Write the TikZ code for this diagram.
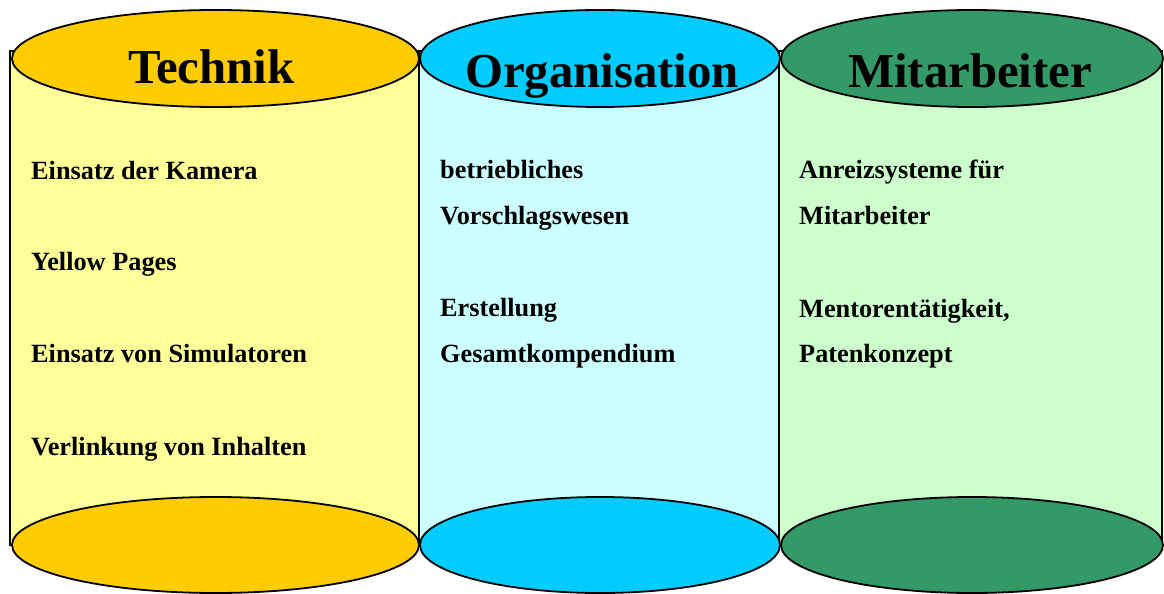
\documentclass[tikz,border=0pt]{standalone}
\usepackage{fontspec}
\setmainfont{Liberation Serif}
\usetikzlibrary{shapes.geometric}

\definecolor{goldcap}{HTML}{FFCC00}
\definecolor{goldbody}{HTML}{FFFF99}
\definecolor{cyancap}{HTML}{00CCFF}
\definecolor{cyanbody}{HTML}{CCFFFF}
\definecolor{greencap}{HTML}{339966}
\definecolor{greenbody}{HTML}{CCFFCC}

\tikzset{
  cylbody/.style={draw=black, line width=1.8pt},
  cyllid/.style={ellipse, draw=black, line width=1.8pt, inner sep=0pt},
  coltitle/.style={anchor=base west, inner sep=0pt, font=\fontsize{48.8}{48.8}\selectfont\bfseries},
  colitem/.style={anchor=base west, inner sep=0pt, font=\fontsize{26.3}{26.3}\selectfont\bfseries},
}

\begin{document}
\begin{tikzpicture}[x=1pt, y=-1pt]
\useasboundingbox (0,0) rectangle (1164,594);

% cylinder bodies
\path[cylbody, fill=goldbody]  (10,51)  rectangle (419,545);
\path[cylbody, fill=cyanbody]  (419,51) rectangle (780,545);
\path[cylbody, fill=greenbody] (779,51) rectangle (1162,545);

% top lids
\node[cyllid, fill=goldcap,  minimum width=407pt, minimum height=97pt] (techtop) at (215.5,58.5) {};
\node[cyllid, fill=cyancap,  minimum width=360pt, minimum height=97pt] (orgtop)  at (600,58.5) {};
\node[cyllid, fill=greencap, minimum width=382pt, minimum height=97pt] (mitop)   at (972,58.5) {};

% bottom lids
\node[cyllid, fill=goldcap,  minimum width=407pt, minimum height=96pt] (techbot) at (215.5,545) {};
\node[cyllid, fill=cyancap,  minimum width=360pt, minimum height=96pt] (orgbot)  at (600,545) {};
\node[cyllid, fill=greencap, minimum width=382pt, minimum height=96pt] (mibot)   at (972,545) {};

% titles
\node[coltitle] (ttech) at (128,83) {Technik};
\node[coltitle] (torg)  at (465,87) {Organisation};
\node[coltitle] (tmit)  at (848,88) {Mitarbeiter};

% Technik
\node[colitem] (t1) at (31,179) {Einsatz der Kamera};
\node[colitem] (t2) at (31,270) {Yellow Pages};
\node[colitem] (t3) at (31,362) {Einsatz von Simulatoren};
\node[colitem] (t4) at (31,455) {Verlinkung von Inhalten};

% Organisation
\node[colitem] (o1) at (440,178) {betriebliches};
\node[colitem] (o2) at (440,224) {Vorschlagswesen};
\node[colitem] (o3) at (440,316) {Erstellung};
\node[colitem] (o4) at (440,362) {Gesamtkompendium};

% Mitarbeiter
\node[colitem] (m1) at (799,178) {Anreizsysteme für};
\node[colitem] (m2) at (799,224) {Mitarbeiter};
\node[colitem] (m3) at (799,317) {Mentorentätigkeit,};
\node[colitem] (m4) at (799,362) {Patenkonzept};
\end{tikzpicture}
\end{document}
